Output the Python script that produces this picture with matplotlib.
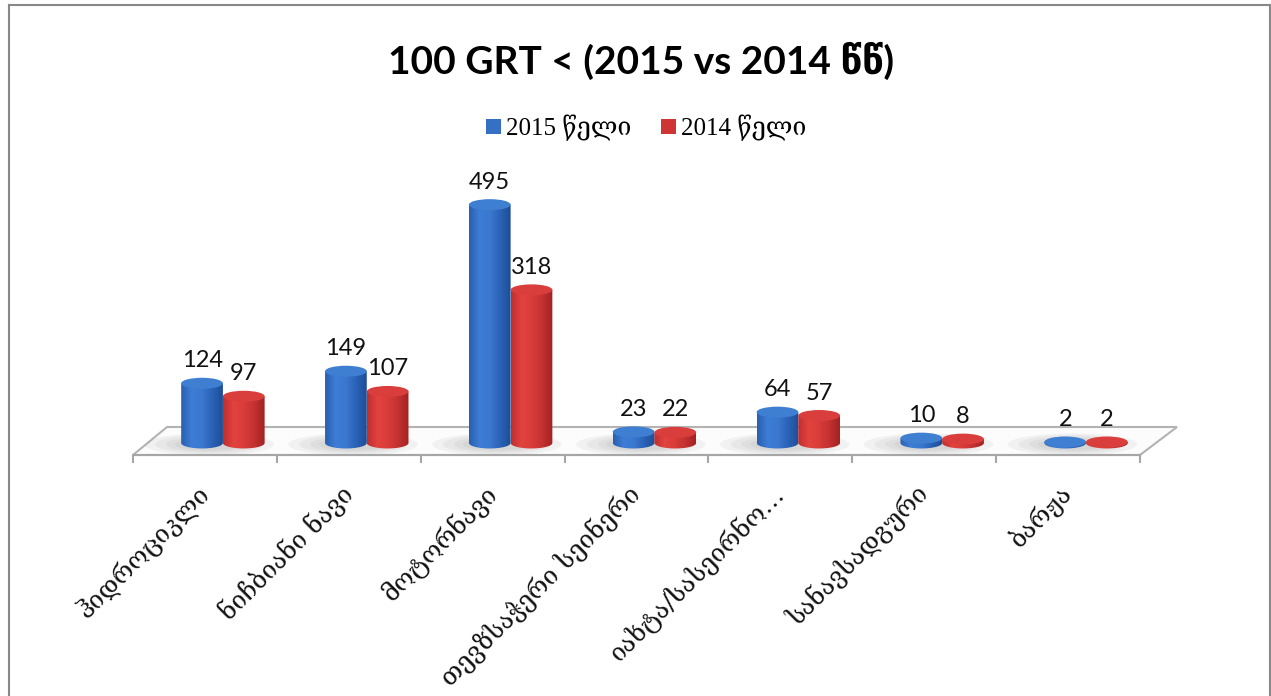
import numpy as np
import matplotlib
matplotlib.use('Agg')
import matplotlib.pyplot as plt
from matplotlib.patches import Ellipse, Polygon, PathPatch, Patch
from matplotlib.path import Path
from matplotlib.lines import Line2D
from matplotlib.colors import LinearSegmentedColormap

# ---------------- data ----------------
categories = ['ჰიდროციკლი', 'ნიჩბიანი ნავი', 'მოტორნავი', 'თევზსაჭერი სეინერი',
              'იახტა/სასეირნო…', 'სანავსადგური', 'ბარჟა']
values_2015 = [124, 149, 495, 23, 64, 10, 2]
values_2014 = [97, 107, 318, 22, 57, 8, 2]
series_labels = ['2015 წელი', '2014 წელი']
title_text = '100 GRT < (2015 vs 2014 წწ)'

# ---------------- figure ----------------
W, H = 1271, 696
fig = plt.figure(figsize=(W / 100, H / 100), dpi=100)
fig.patch.set_facecolor('white')

AX_L, AX_R, AX_T, AX_B = 133, 1140, 183, 455
ax = fig.add_axes([AX_L / W, 1 - AX_B / H, (AX_R - AX_L) / W, (AX_B - AX_T) / H])
ymin, ymax = -25, 540
ax.set_xlim(-0.5, len(categories) - 0.5)
ax.set_ylim(ymin, ymax)
ppu = (AX_B - AX_T) / (ymax - ymin)      # pixels per data unit
eh = 11 / ppu                             # ellipse height in data units

blue_cmap = LinearSegmentedColormap.from_list(
    'b', ['#2b5fae', '#3d7dd5', '#3a78cf', '#2a62b6', '#1f4c95'])
red_cmap = LinearSegmentedColormap.from_list(
    'r', ['#bf2e2e', '#e2433f', '#d83c39', '#c33130', '#a22222'])
blue_top = '#3f7fd2'
red_top = '#da3e3c'

# floor
fx0 = (167 - AX_L) / (AX_R - AX_L)
fx1 = (1177 - AX_L) / (AX_R - AX_L)
fy = (AX_B - 427) / (AX_B - AX_T)
floor = Polygon([(0, 0), (1, 0), (fx1, fy), (fx0, fy)], closed=True,
                transform=ax.transAxes, facecolor='#fcfcfc', edgecolor='#b3b3b3',
                lw=1.5, zorder=0.5, clip_on=False)
ax.add_patch(floor)

# soft shadows on the floor
for i in range(len(categories)):
    for k, (sw, sh) in enumerate([(0.9, 2.0), (0.75, 1.7), (0.6, 1.4), (0.48, 1.1)]):
        sh_e = Ellipse((i + 0.03, -3), sw, sh * eh, facecolor='#7a7a7a',
                       edgecolor='none', alpha=0.08, zorder=0.6)
        ax.add_patch(sh_e)
        sh_e.set_clip_path(floor)

bw = 0.29
offs = [-0.02, 0.27]


def cylinder(xc, v, cmap, topcol, z):
    x0, x1 = xc - bw / 2, xc + bw / 2
    t = np.linspace(0, np.pi, 50)
    arc = list(zip(xc + (bw / 2) * np.cos(t), -(eh / 2) * np.sin(t)))
    verts = [(x0, 0), (x0, v), (x1, v), (x1, 0)] + arc + [(x0, 0)]
    codes = [Path.MOVETO] + [Path.LINETO] * (len(verts) - 2) + [Path.CLOSEPOLY]
    body = PathPatch(Path(verts, codes), facecolor='none', edgecolor='none', zorder=z)
    ax.add_patch(body)
    grad = np.linspace(0, 1, 200).reshape(1, -1)
    im = ax.imshow(grad, cmap=cmap, extent=(x0, x1, -eh, v + eh), aspect='auto',
                   zorder=z, interpolation='bilinear')
    im.set_clip_path(body)
    top = Ellipse((xc, v), bw, eh, facecolor=topcol, edgecolor='none', zorder=z + 0.1)
    ax.add_patch(top)


for i in range(len(categories)):
    cylinder(i + offs[0], values_2015[i], blue_cmap, blue_top, 2)
    cylinder(i + offs[1], values_2014[i], red_cmap, red_top, 3)

lab_font = ['Lato', 'DejaVu Sans']
for vals, off in [(values_2015, offs[0]), (values_2014, offs[1])]:
    for i, v in enumerate(vals):
        ax.annotate(str(v), (i + off, v), xytext=(0, 11.5), textcoords='offset points',
                    ha='center', va='baseline', fontsize=17, family=lab_font,
                    color='#111111', zorder=5)

ax.set_xlim(-0.5, len(categories) - 0.5)
ax.set_ylim(ymin, ymax)

# axes styling
for s in ['left', 'right', 'top']:
    ax.spines[s].set_visible(False)
ax.spines['bottom'].set_color('#a6a6a6')
ax.spines['bottom'].set_linewidth(1.5)
ax.set_yticks([])
ax.set_xticks(range(len(categories)))
ax.set_xticklabels(categories, rotation=45, ha='right', va='center',
                   rotation_mode='anchor', fontsize=18,
                   family=['DejaVu Serif', 'DejaVu Sans'], color='#111111')
ax.tick_params(axis='x', which='major', length=0, pad=25)
ax.set_xticks(np.arange(-0.5, len(categories), 1), minor=True)
ax.tick_params(axis='x', which='minor', length=6, width=1.5, color='#a6a6a6')
ax.patch.set_visible(False)

# title
fig.text(641 / W, 1 - 61 / H, title_text, ha='center', va='center', fontsize=28,
         fontweight='bold', family=['Lato', 'DejaVu Sans'], color='#000000')

# legend
handles = [Patch(facecolor='#3570c4'), Patch(facecolor='#cf3535')]
fig.legend(handles, series_labels, loc='center', bbox_to_anchor=(646 / W, 1 - 128 / H),
           ncol=2, frameon=False,
           prop={'family': ['Liberation Serif', 'DejaVu Serif', 'DejaVu Sans'], 'size': 18},
           handlelength=0.6, handleheight=0.6, handletextpad=0.2, columnspacing=1.2)

# outer border
bc = '#888888'
fig.add_artist(Line2D([8.5 / W, 1270 / W], [1 - 5 / H, 1 - 5 / H], transform=fig.transFigure, color=bc, lw=1.5))
fig.add_artist(Line2D([8.5 / W, 8.5 / W], [0, 1 - 5 / H], transform=fig.transFigure, color=bc, lw=1.5))
fig.add_artist(Line2D([1269.5 / W, 1269.5 / W], [0, 1 - 5 / H], transform=fig.transFigure, color=bc, lw=1.5))

fig.savefig('out.png', dpi=100, facecolor='white')
